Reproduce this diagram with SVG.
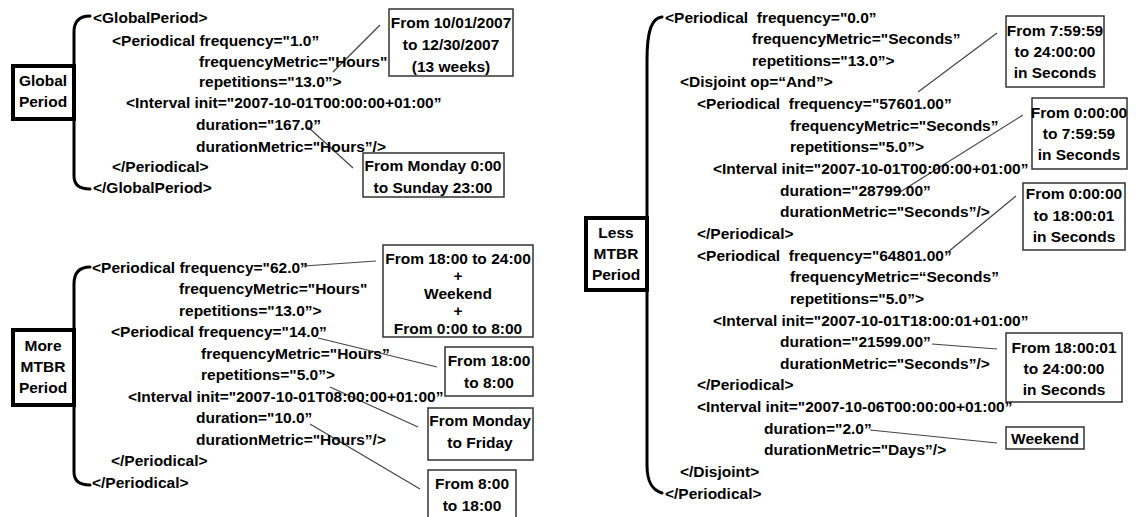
<svg xmlns="http://www.w3.org/2000/svg" width="1137" height="517" viewBox="0 0 1137 517" xml:space="preserve">
<style>
text{font-family:"Liberation Sans",Arial,sans-serif;font-size:15.5px;font-weight:bold;fill:#000;white-space:pre}
.c{text-anchor:middle}
.lbl{fill:#fff;stroke:#000;stroke-width:4}
.note{fill:#fff;stroke:#333;stroke-width:1.5}
.brace{fill:none;stroke:#000;stroke-width:3;stroke-linecap:round}
#connectors line{stroke:#444;stroke-width:1.2}
</style>
<rect width="1137" height="517" fill="#fff"/>

<g id="connectors">
<line x1="333" y1="72" x2="380" y2="25"/>
<line x1="308" y1="127" x2="353" y2="168"/>
<line x1="304" y1="266" x2="376" y2="261"/>
<line x1="318" y1="338" x2="437" y2="367"/>
<line x1="330" y1="387" x2="418" y2="427"/>
<line x1="310" y1="424" x2="420" y2="489"/>
<line x1="918" y1="92" x2="997" y2="33"/>
<line x1="900" y1="192" x2="1023" y2="115"/>
<line x1="948" y1="252" x2="1016" y2="196"/>
<line x1="932" y1="344" x2="997" y2="349"/>
<line x1="870" y1="430" x2="997" y2="443"/>
</g>

<g id="global-period">
<path class="brace" d="M90,16 C80,16 74,21 74,32 L74,176 C74,185 80,189 90,189"/>
<rect class="lbl" x="13" y="66" width="61" height="53"/>
<text class="c" x="43" y="85.5">Global</text>
<text class="c" x="43" y="106.5">Period</text>
</g>
<g id="global-xml">
<text x="93" y="22.5">&lt;GlobalPeriod&gt;</text>
<text x="112" y="45.5">&lt;Periodical frequency="1.0”</text>
<text x="199" y="66.5">frequencyMetric="Hours"</text>
<text x="199" y="86.5">repetitions="13.0”&gt;</text>
<text x="126" y="107.5">&lt;Interval init="2007-10-01T00:00:00+01:00”</text>
<text x="196" y="129.5">duration="167.0”</text>
<text x="196" y="151.5">durationMetric="Hours”/&gt;</text>
<text x="112" y="171.5">&lt;/Periodical&gt;</text>
<text x="93" y="192.5">&lt;/GlobalPeriod&gt;</text>
</g>
<g id="note-13weeks">
<rect class="note" x="389" y="9" width="124" height="67"/>
<text class="c" x="451" y="27.5">From 10/01/2007</text>
<text class="c" x="451" y="49.5">to 12/30/2007</text>
<text class="c" x="451" y="71.5">(13 weeks)</text>
</g>
<g id="note-week">
<rect class="note" x="363" y="153" width="141" height="44"/>
<text class="c" x="433" y="170.5">From Monday 0:00</text>
<text class="c" x="433" y="192.5">to Sunday 23:00</text>
</g>

<g id="more-period">
<path class="brace" d="M90,267 C80,267 74,272 74,284 L74,472 C74,481 80,485 90,485"/>
<rect class="lbl" x="13" y="330" width="61" height="75"/>
<text class="c" x="43" y="350.5">More</text>
<text class="c" x="43" y="371.5">MTBR</text>
<text class="c" x="43" y="392.5">Period</text>
</g>
<g id="more-xml">
<text x="92" y="272.5">&lt;Periodical frequency="62.0”</text>
<text x="179" y="294">frequencyMetric="Hours"</text>
<text x="179" y="315.5">repetitions="13.0”&gt;</text>
<text x="111" y="337">&lt;Periodical frequency="14.0”</text>
<text x="201" y="358.5">frequencyMetric="Hours”</text>
<text x="201" y="380">repetitions="5.0”&gt;</text>
<text x="128" y="401.5">&lt;Interval init="2007-10-01T08:00:00+01:00”</text>
<text x="196" y="423">duration="10.0”</text>
<text x="196" y="444.5">durationMetric="Hours”/&gt;</text>
<text x="111" y="466">&lt;/Periodical&gt;</text>
<text x="92" y="487.5">&lt;/Periodical&gt;</text>
</g>
<g id="note-evening">
<rect class="note" x="383" y="245" width="150" height="92"/>
<text class="c" x="458" y="263.5">From 18:00 to 24:00</text>
<text class="c" x="458" y="281">+</text>
<text class="c" x="458" y="298.5">Weekend</text>
<text class="c" x="458" y="316">+</text>
<text class="c" x="458" y="333.5">From 0:00 to 8:00</text>
</g>
<g id="note-night">
<rect class="note" x="445" y="347" width="88" height="49"/>
<text class="c" x="489" y="365.5">From 18:00</text>
<text class="c" x="489" y="387.5">to 8:00</text>
</g>
<g id="note-weekdays">
<rect class="note" x="428" y="408" width="105" height="52"/>
<text class="c" x="480" y="425.5">From Monday</text>
<text class="c" x="480" y="447.5">to Friday</text>
</g>
<g id="note-day">
<rect class="note" x="428" y="470" width="88" height="52"/>
<text class="c" x="472" y="488.5">From 8:00</text>
<text class="c" x="472" y="510.5">to 18:00</text>
</g>

<g id="less-period">
<path class="brace" d="M662,17 C652,18 647,30 647,60 L647,465 C647,482 652,490 662,493"/>
<rect class="lbl" x="586" y="218" width="61" height="72"/>
<text class="c" x="616" y="237.5">Less</text>
<text class="c" x="616" y="258.5">MTBR</text>
<text class="c" x="616" y="280">Period</text>
</g>
<g id="less-xml">
<text x="665" y="22.5">&lt;Periodical  frequency="0.0”</text>
<text x="752" y="44.1">frequencyMetric="Seconds”</text>
<text x="752" y="65.8">repetitions="13.0”&gt;</text>
<text x="680" y="87.4">&lt;Disjoint op=“And”&gt;</text>
<text x="697" y="109.1">&lt;Periodical  frequency="57601.00”</text>
<text x="790" y="130.7">frequencyMetric="Seconds”</text>
<text x="790" y="152.3">repetitions="5.0”&gt;</text>
<text x="713" y="174">&lt;Interval init="2007-10-01T00:00:00+01:00”</text>
<text x="780" y="195.6">duration="28799.00”</text>
<text x="780" y="217.3">durationMetric="Seconds”/&gt;</text>
<text x="697" y="238.9">&lt;/Periodical&gt;</text>
<text x="697" y="260.5">&lt;Periodical  frequency="64801.00”</text>
<text x="790" y="282.2">frequencyMetric=“Seconds”</text>
<text x="790" y="303.8">repetitions="5.0”&gt;</text>
<text x="713" y="325.5">&lt;Interval init="2007-10-01T18:00:01+01:00”</text>
<text x="780" y="347.1">duration="21599.00”</text>
<text x="780" y="368.7">durationMetric="Seconds”/&gt;</text>
<text x="697" y="390.4">&lt;/Periodical&gt;</text>
<text x="697" y="412">&lt;Interval init="2007-10-06T00:00:00+01:00”</text>
<text x="764" y="433.7">duration="2.0”</text>
<text x="764" y="455.3">durationMetric="Days”/&gt;</text>
<text x="680" y="476.9">&lt;/Disjoint&gt;</text>
<text x="665" y="498.6">&lt;/Periodical&gt;</text>
</g>
<g id="note-s1">
<rect class="note" x="1006" y="16" width="98" height="71"/>
<text class="c" x="1055" y="35.5">From 7:59:59</text>
<text class="c" x="1055" y="56.5">to 24:00:00</text>
<text class="c" x="1055" y="77.5">in Seconds</text>
</g>
<g id="note-s2">
<rect class="note" x="1032" y="98" width="95" height="71"/>
<text class="c" x="1079" y="117.5">From 0:00:00</text>
<text class="c" x="1079" y="138.5">to 7:59:59</text>
<text class="c" x="1079" y="159.5">in Seconds</text>
</g>
<g id="note-s3">
<rect class="note" x="1023" y="183" width="102" height="67"/>
<text class="c" x="1074" y="198.5">From 0:00:00</text>
<text class="c" x="1074" y="220.5">to 18:00:01</text>
<text class="c" x="1074" y="241.5">in Seconds</text>
</g>
<g id="note-s4">
<rect class="note" x="1006" y="333" width="116" height="69"/>
<text class="c" x="1064" y="352.5">From 18:00:01</text>
<text class="c" x="1064" y="373.5">to 24:00:00</text>
<text class="c" x="1064" y="394.5">in Seconds</text>
</g>
<g id="note-weekend">
<rect class="note" x="1006" y="427" width="78" height="22"/>
<text class="c" x="1045" y="443.5">Weekend</text>
</g>
</svg>
